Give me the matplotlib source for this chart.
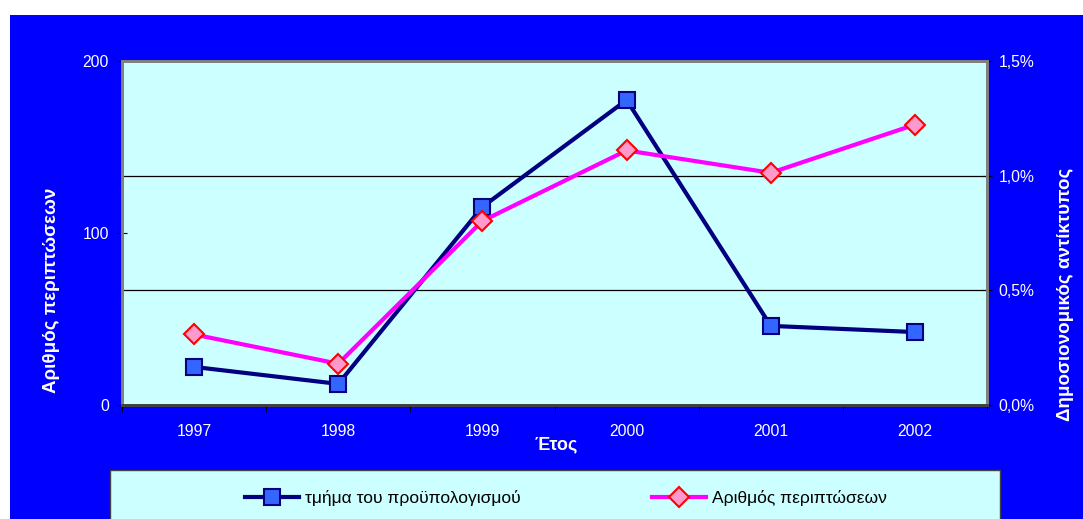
#!/usr/bin/env python3
"""Dual-axis line chart: cases vs budget share per year (Greek labels)."""

import matplotlib
matplotlib.use('Agg')
import matplotlib.pyplot as plt
from matplotlib.patches import Rectangle
from matplotlib.ticker import FuncFormatter

BLUE_BG = '#0000ff'
PLOT_BG = '#ccffff'
NAVY = '#000080'
SQUARE_FILL = '#3366ff'
PINK = '#ff00ff'
DIAMOND_FILL = '#ff99cc'
DIAMOND_EDGE = '#ff0000'
FRAME = '#808080'

years = ['1997', '1998', '1999', '2000', '2001', '2002']
cases = [41, 24, 107, 148, 135, 163]                      # left axis
budget_share = [0.166, 0.092, 0.864, 1.33, 0.345, 0.318]  # right axis, %

label_budget = 'τμήμα του προϋπολογισμού'
label_cases = 'Αριθμός περιπτώσεων'
ylabel_left = 'Αριθμός περιπτώσεων'
ylabel_right = 'Δημοσιονομικός αντίκτυπος'
xlabel = 'Έτος'

plt.rcParams['font.family'] = ['Liberation Sans', 'DejaVu Sans']

W, H = 1083, 519
fig = plt.figure(figsize=(W / 100, H / 100), dpi=100)
fig.patch.set_facecolor('white')

# blue panel (white margin at top and left)
fig.patches.append(Rectangle((10 / W, 0), 1, 1 - 15 / H, transform=fig.transFigure,
                             facecolor=BLUE_BG, edgecolor='none', zorder=-10))
# legend box
fig.patches.append(Rectangle((110 / W, -0.05), (1000 - 110) / W, 0.05 + 1 - 470 / H,
                             transform=fig.transFigure, facecolor=PLOT_BG,
                             edgecolor='#404040', linewidth=1.0, zorder=-5))

ax = fig.add_axes([122 / W, 1 - 405 / H, (987 - 122) / W, (405 - 61) / H])
ax2 = ax.twinx()

x = list(range(len(years)))

ax2.plot(x, budget_share, color=NAVY, linewidth=3, marker='s', markersize=11,
         markerfacecolor=SQUARE_FILL, markeredgecolor=NAVY, markeredgewidth=1.5,
         label=label_budget, zorder=3)
ax.plot(x, cases, color=PINK, linewidth=3, marker='D', markersize=10.5,
        markerfacecolor=DIAMOND_FILL, markeredgecolor=DIAMOND_EDGE, markeredgewidth=1.5,
        label=label_cases, zorder=3)
# pink series drawn on top, shared cyan background from the twin axes
ax.set_zorder(1)
ax.patch.set_visible(False)
ax2.set_zorder(0)
ax2.patch.set_visible(True)
ax2.patch.set_facecolor(PLOT_BG)

ax.set_xlim(-0.5, len(years) - 0.5)
ax.set_ylim(0, 200)
ax2.set_ylim(0, 1.5)

ax.set_yticks([0, 100, 200])
ax2.set_yticks([0, 0.5, 1.0, 1.5])
ax2.yaxis.set_major_formatter(FuncFormatter(lambda v, _: f'{v:.1f}%'.replace('.', ',')))

for v in [0.5, 1.0]:
    ax2.axhline(v, color='black', linewidth=0.9, zorder=1)

ax.set_xticks(x)
ax.set_xticklabels(years)
ax.set_xticks([i - 0.5 for i in range(len(years) + 1)], minor=True)
ax.tick_params(axis='x', which='major', length=0, labelcolor='white', labelsize=11.3, pad=14)
ax.tick_params(axis='x', which='minor', length=5, color='black', direction='out')
ax.tick_params(axis='y', length=7, direction='inout', color='black', labelcolor='white',
               labelsize=11.3, pad=6)
ax2.tick_params(axis='y', length=7, direction='inout', color='black', labelcolor='white',
                labelsize=11.3, pad=5)

for a in (ax, ax2):
    for spine in a.spines.values():
        spine.set_color(FRAME)
        spine.set_linewidth(2)
    a.spines['bottom'].set_color('#404040')

fig.text(52 / W, 1 - 290 / H, ylabel_left, rotation=90, ha='center', va='center',
         color='white', fontsize=13.5, fontweight='bold')
fig.text(1065 / W, 1 - 294 / H, ylabel_right, rotation=90, ha='center', va='center',
         color='white', fontsize=13.5, fontweight='bold')
fig.text(556 / W, 1 - 445 / H, xlabel, ha='center', va='center',
         color='white', fontsize=13, fontweight='bold')

h1, l1 = ax2.get_legend_handles_labels()
h2, l2 = ax.get_legend_handles_labels()
fig.legend(h1 + h2, l1 + l2, loc='center', bbox_to_anchor=(566 / W, 1 - 498 / H),
           ncol=2, frameon=False, fontsize=12.5, columnspacing=7.6, handlelength=3.1,
           handletextpad=0.35)

fig.savefig('out.png', dpi=100, facecolor='white')
